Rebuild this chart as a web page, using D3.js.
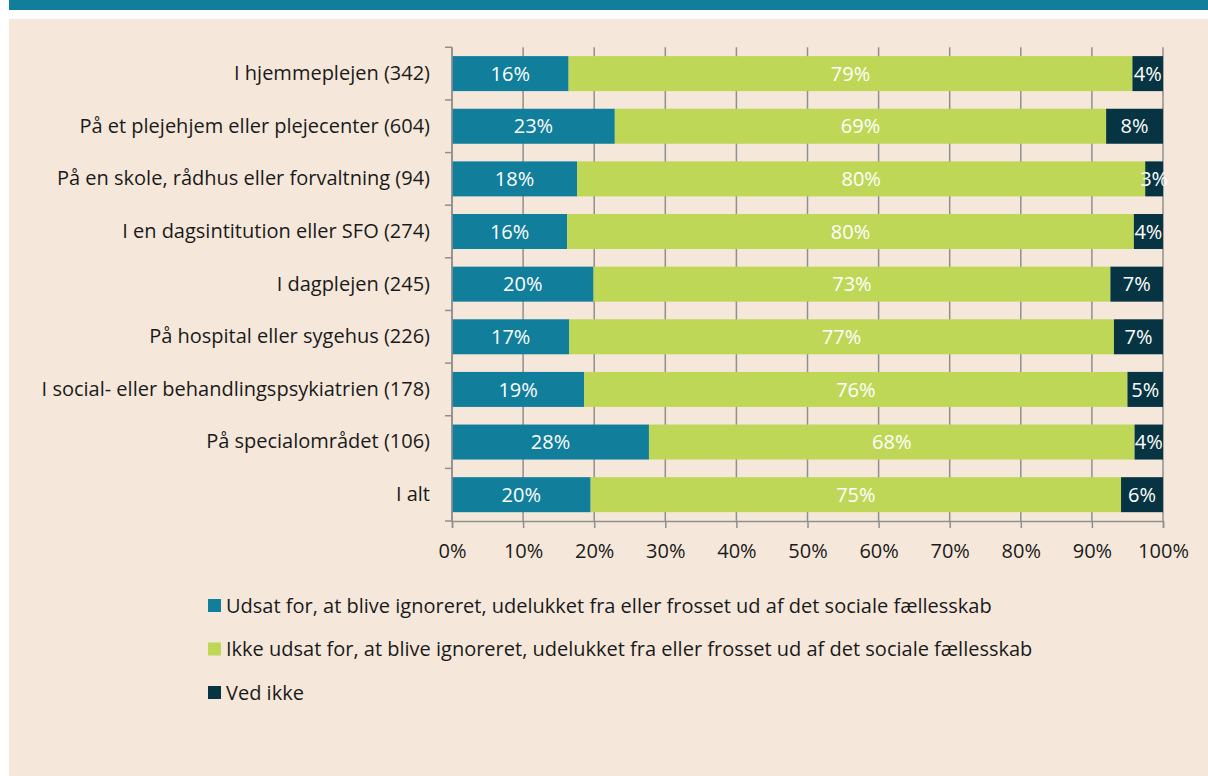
<!DOCTYPE html>
<html>
<head>
<meta charset="utf-8">
<script src="https://cdnjs.cloudflare.com/ajax/libs/d3/7.8.5/d3.min.js"></script>
<style>
  body { margin: 0; background: #fff; }
  text { font-family: "Open Sans", "Noto Sans", sans-serif; }
</style>
</head>
<body>
<svg id="chart"></svg>
<script>
var categories = [
  "I hjemmeplejen (342)",
  "På et plejehjem eller plejecenter (604)",
  "På en skole, rådhus eller forvaltning (94)",
  "I en dagsintitution eller SFO (274)",
  "I dagplejen (245)",
  "På hospital eller sygehus (226)",
  "I social- eller behandlingspsykiatrien (178)",
  "På specialområdet (106)",
  "I alt"
];
var udsat = [16.4, 22.9, 17.6, 16.2, 19.9, 16.5, 18.6, 27.7, 19.5];
var ikkeUdsat = [79.3, 69.1, 79.9, 79.7, 72.7, 76.6, 76.4, 68.3, 74.6];
var vedIkke = [4.3, 8.0, 2.5, 4.1, 7.4, 6.9, 5.0, 4.0, 5.9];
var seriesNames = [
  "Udsat for, at blive ignoreret, udelukket fra eller frosset ud af det sociale fællesskab",
  "Ikke udsat for, at blive ignoreret, udelukket fra eller frosset ud af det sociale fællesskab",
  "Ved ikke"
];
var xTicks = [0, 10, 20, 30, 40, 50, 60, 70, 80, 90, 100];

var colors = ["#117e9b", "#bed757", "#073442"];
var w = 1208, h = 776;
var fs = 20;

var svg = d3.select("#chart").attr("width", w).attr("height", h);

svg.append("rect").attr("x", 9).attr("y", 0).attr("width", w - 9).attr("height", 10).attr("fill", "#117e9b");
svg.append("rect").attr("x", 9).attr("y", 19).attr("width", w - 9).attr("height", h - 19).attr("fill", "#f5e8db");

var rows = categories.map(function(c, i) {
  return {cat: c, udsat: udsat[i], ikke: ikkeUdsat[i], ved: vedIkke[i]};
});
var keys = ["udsat", "ikke", "ved"];
var stacked = d3.stack().keys(keys)(rows);

var x = d3.scaleLinear().domain([0, 100]).range([452, 1163]);
var y = d3.scaleBand().domain(categories).range([47.3, 521])
  .paddingInner(0.335).paddingOuter(0.1675);

var gridColor = "#8f8f8f";

// vertical gridlines
svg.append("g").selectAll("line").data(xTicks).enter().append("line")
  .attr("x1", function(d) { return x(d); })
  .attr("x2", function(d) { return x(d); })
  .attr("y1", 47.3).attr("y2", 521)
  .attr("stroke", gridColor).attr("stroke-width", 1.5);

// bars
var layer = svg.append("g").selectAll("g").data(stacked).enter().append("g")
  .attr("fill", function(d, i) { return colors[i]; });
layer.selectAll("rect").data(function(d) { return d; }).enter().append("rect")
  .attr("x", function(d) { return x(d[0]); })
  .attr("width", function(d) { return x(d[1]) - x(d[0]); })
  .attr("y", function(d) { return y(d.data.cat); })
  .attr("height", y.bandwidth());

// data labels
layer.selectAll("text").data(function(d) { return d; }).enter().append("text")
  .attr("x", function(d) { return (x(d[0]) + x(d[1])) / 2; })
  .attr("y", function(d) { return y(d.data.cat) + y.bandwidth() / 2; })
  .attr("dy", "0.36em")
  .attr("text-anchor", "middle")
  .attr("fill", "#fff")
  .attr("font-size", fs)
  .text(function(d) { return Math.round(d[1] - d[0]) + "%"; });

// y axis
var yAxis = d3.axisLeft(y).tickSize(0).tickPadding(22);
var gy = svg.append("g").attr("transform", "translate(452,0)").call(yAxis);
gy.select(".domain").remove();
gy.selectAll("text").attr("font-size", fs).attr("fill", "#1a1a1a");
var bounds = categories.map(function(c) { return y(c) - y.step() * y.paddingInner() / 2; });
bounds.push(521);
svg.append("g").selectAll("line").data(bounds).enter().append("line")
  .attr("x1", 445).attr("x2", 452)
  .attr("y1", function(d) { return d; }).attr("y2", function(d) { return d; })
  .attr("stroke", gridColor).attr("stroke-width", 1.5);
svg.append("line").attr("x1", 452).attr("x2", 452).attr("y1", 47.3).attr("y2", 521)
  .attr("stroke", gridColor).attr("stroke-width", 1.5);

// x axis
var xAxis = d3.axisBottom(x).tickValues(xTicks).tickSize(7).tickPadding(16)
  .tickFormat(function(d) { return d + "%"; });
var gx = svg.append("g").attr("transform", "translate(0,521)").call(xAxis);
gx.select(".domain").attr("stroke", gridColor).attr("stroke-width", 1.5);
gx.selectAll(".tick line").attr("stroke", gridColor).attr("stroke-width", 1.5);
gx.selectAll("text").attr("font-size", fs).attr("fill", "#1a1a1a");

// legend
var legend = svg.append("g").selectAll("g").data(seriesNames).enter().append("g")
  .attr("transform", function(d, i) { return "translate(208," + (599 + i * 43.5) + ")"; });
legend.append("rect").attr("width", 13).attr("height", 13)
  .attr("fill", function(d, i) { return colors[i]; });
legend.append("text").attr("x", 18).attr("y", 6.5).attr("dy", "0.36em")
  .attr("font-size", fs).attr("fill", "#1a1a1a")
  .text(function(d) { return d; });
</script>
</body>
</html>
